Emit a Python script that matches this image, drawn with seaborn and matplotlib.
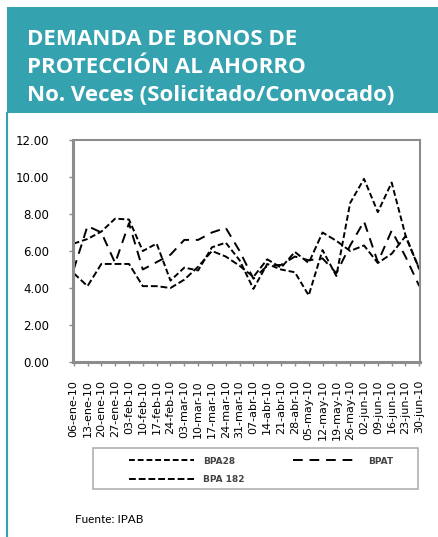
import pandas as pd
import seaborn as sns
import matplotlib.pyplot as plt
from matplotlib.patches import Rectangle
from matplotlib.lines import Line2D

fechas = ["06-ene-10", "13-ene-10", "20-ene-10", "27-ene-10", "03-feb-10", "10-feb-10",
          "17-feb-10", "24-feb-10", "03-mar-10", "10-mar-10", "17-mar-10", "24-mar-10",
          "31-mar-10", "07-abr-10", "14-abr-10", "21-abr-10", "28-abr-10", "05-may-10",
          "12-may-10", "19-may-10", "26-may-10", "02-jun-10", "09-jun-10", "16-jun-10",
          "23-jun-10", "30-jun-10"]
bpa28 = [6.4, 6.65, 7.05, 7.75, 7.7, 6.0, 6.4, 4.4, 5.1, 4.95, 6.2, 6.45, 5.5, 3.95,
         5.3, 5.0, 4.85, 3.6, 6.05, 4.65, 8.6, 9.9, 8.1, 9.7, 6.85, 5.0]
bpat = [5.0, 7.35, 7.0, 5.35, 7.5, 5.0, 5.4, 5.8, 6.6, 6.6, 7.0, 7.25, 6.0, 4.5,
        5.2, 5.25, 5.7, 5.5, 5.6, 4.8, 6.3, 7.6, 5.4, 7.1, 5.7, 4.1]
bpa182 = [4.8, 4.1, 5.3, 5.3, 5.3, 4.1, 4.1, 4.0, 4.45, 5.15, 6.0, 5.7, 5.2, 4.6,
          5.55, 5.1, 5.95, 5.35, 7.0, 6.55, 6.0, 6.3, 5.35, 5.85, 6.8, 5.05]
series = ["BPA28", "BPAT", "BPA 182"]
yticks = [0, 2, 4, 6, 8, 10, 12]

df = pd.DataFrame({
    "fecha": fechas * 3,
    "veces": bpa28 + bpat + bpa182,
    "serie": [series[0]] * len(fechas) + [series[1]] * len(fechas) + [series[2]] * len(fechas),
})

teal = "#35a2af"
gris = "#8c8c8c"
estilos = {"BPA28": (3, 1.5), "BPAT": (5, 3.5), "BPA 182": (3.5, 1.5)}

fig = plt.figure(figsize=(4.38, 5.37), dpi=100)
W, H = 438, 537

# encabezado
fig.patches.append(Rectangle((7 / W, 1 - 113 / H), 1, 106 / H, transform=fig.transFigure,
                             facecolor=teal, edgecolor="none", zorder=0))
fig.add_artist(Line2D([6.5 / W, 6.5 / W], [0, 1 - 113 / H], color=teal, lw=1.5))
titulo = ["DEMANDA DE BONOS DE", "PROTECCIÓN AL AHORRO", "No. Veces (Solicitado/Convocado)"]
for i, t in enumerate(titulo):
    fig.text(27 / W, 1 - (45 + 28 * i) / H, t, color="white", fontsize=16,
             fontweight="bold", family="Open Sans", va="baseline", ha="left")

ax = fig.add_axes([73 / W, 1 - 362 / H, 347 / W, 222 / H])
sns.lineplot(data=df, x="fecha", y="veces", hue="serie", style="serie", sort=False,
             palette=["black"] * 3, dashes=estilos, linewidth=1.4, legend=False, ax=ax)

ax.set_ylim(0, 12)
ax.set_xlim(-0.05, len(fechas) - 0.95)
ax.set_yticks(yticks)
ax.set_yticklabels([f"{v:.2f}" for v in yticks], fontsize=8.5)
ax.set_xticks(range(len(fechas)))
ax.set_xticklabels(fechas, rotation=90, fontsize=8, va="top")
ax.set_xlabel("")
ax.set_ylabel("")
ax.tick_params(axis="both", color=gris, length=3, width=1)
ax.tick_params(axis="y", pad=14)
ax.tick_params(axis="x", pad=10)
for s in ax.spines.values():
    s.set_color(gris)
    s.set_linewidth(1.5)
ax.spines["left"].set_linewidth(2.2)
ax.spines["bottom"].set_linewidth(2.2)

# leyenda
fig.patches.append(Rectangle((93 / W, 1 - 489 / H), 325 / W, 41 / H, transform=fig.transFigure,
                             facecolor="white", edgecolor="#b0b0b0", lw=1.2))
orden = ["BPA28", "BPA 182", "BPAT"]
handles = [Line2D([], [], color="black", lw=1.4, dashes=estilos[s]) for s in orden]
leg = fig.legend(handles, orden, ncol=2, loc="upper left",
                 bbox_to_anchor=(124 / W, 1 - 452 / H), frameon=False, borderpad=0,
                 handlelength=7.3, handletextpad=1.0, columnspacing=5.3, labelspacing=1.1,
                 prop={"size": 6.5, "weight": "bold"})
for t in leg.get_texts():
    t.set_color("#444444")

fig.text(75 / W, 1 - 523 / H, "Fuente: IPAB", fontsize=8.5, family="Lato", va="baseline")

fig.savefig("out.png", dpi=100)
